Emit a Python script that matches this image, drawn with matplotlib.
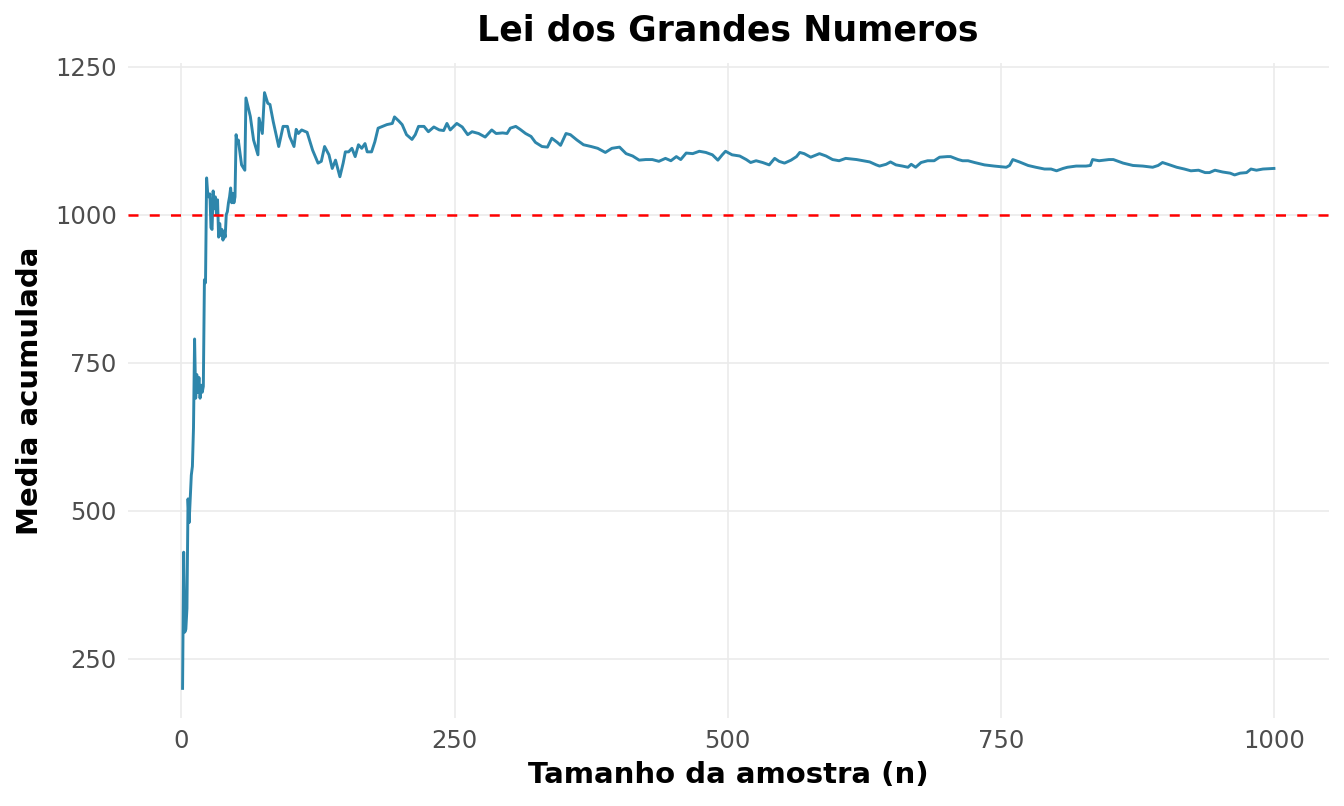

import matplotlib
matplotlib.use("Agg")
import matplotlib.pyplot as plt

# sample size (n) and cumulative mean
n_amostra = [
    1, 2, 3, 4, 5, 6, 7, 8, 9, 10, 11, 12, 13, 14, 15, 16, 17, 18, 19, 20,
    21, 22, 23, 24, 25, 26, 27, 28, 29, 30, 31, 32, 33, 34, 35, 36, 37, 38, 39, 40,
    41, 42, 43, 44, 45, 46, 47, 48, 49, 50, 51, 52, 55, 58, 59, 63, 66, 70, 71, 74,
    76, 79, 81, 84, 89, 93, 97, 99, 103, 105, 107, 110, 115, 120, 125, 128, 131, 135, 138, 141,
    145, 148, 150, 153, 156, 159, 162, 165, 168, 170, 174, 177, 180, 184, 188, 193, 195, 199, 202, 206,
    211, 214, 217, 222, 226, 231, 236, 240, 243, 246, 252, 257, 262, 266, 272, 278, 284, 288, 294, 298,
    301, 306, 310, 315, 320, 324, 330, 335, 339, 344, 347, 352, 356, 362, 368, 375, 381, 388, 394, 401,
    407, 413, 419, 425, 431, 437, 443, 448, 453, 457, 462, 468, 474, 480, 486, 491, 495, 498, 504, 511,
    517, 521, 526, 532, 538, 543, 547, 552, 558, 563, 566, 570, 576, 584, 590, 596, 602, 608, 618, 624,
    630, 636, 639, 645, 649, 654, 660, 665, 668, 672, 677, 683, 689, 694, 701, 704, 711, 715, 720, 726,
    735, 744, 755, 758, 761, 767, 775, 782, 790, 796, 801, 807, 811, 819, 828, 832, 834, 840, 849, 853,
    862, 871, 880, 889, 894, 898, 903, 911, 918, 924, 931, 937, 941, 946, 953, 960, 964, 969, 975, 979,
    984, 990, 1000,
]
media_acumulada = [
    200, 430, 295, 300, 335, 520, 480, 520, 560, 575, 640, 790, 690, 730, 700, 725, 690, 712, 700, 710,
    890, 885, 1062, 1036, 1030, 1035, 978, 975, 1040, 1010, 1030, 1000, 1025, 962, 985, 965, 975, 957, 972, 962,
    1000, 1005, 1020, 1030, 1045, 1020, 1036, 1020, 1030, 1135, 1120, 1126, 1084, 1075, 1197, 1166, 1126, 1101, 1163, 1137,
    1206, 1188, 1186, 1157, 1115, 1149, 1149, 1132, 1115, 1144, 1137, 1143, 1139, 1109, 1087, 1090, 1115, 1101, 1078, 1092,
    1064, 1087, 1106, 1106, 1112, 1098, 1118, 1112, 1120, 1106, 1106, 1123, 1146, 1149, 1152, 1154, 1165, 1158, 1152, 1135,
    1127, 1135, 1149, 1149, 1140, 1148, 1143, 1142, 1154, 1143, 1154, 1148, 1135, 1140, 1137, 1131, 1143, 1137, 1138, 1137,
    1146, 1149, 1144, 1137, 1132, 1122, 1115, 1114, 1129, 1122, 1117, 1137, 1135, 1126, 1118, 1115, 1112, 1105, 1112, 1114,
    1103, 1099, 1092, 1093, 1093, 1090, 1095, 1091, 1098, 1093, 1104, 1103, 1107, 1105, 1101, 1092, 1101, 1107, 1101, 1099,
    1093, 1088, 1091, 1088, 1084, 1095, 1090, 1087, 1092, 1098, 1105, 1103, 1097, 1103, 1099, 1093, 1091, 1095, 1093, 1091,
    1089, 1084, 1082, 1085, 1089, 1084, 1082, 1080, 1085, 1080, 1088, 1091, 1091, 1097, 1098, 1098, 1093, 1091, 1091, 1088,
    1084, 1082, 1080, 1083, 1093, 1089, 1083, 1080, 1077, 1077, 1074, 1078, 1080, 1082, 1082, 1083, 1093, 1091, 1093, 1093,
    1087, 1083, 1082, 1080, 1083, 1088, 1085, 1080, 1077, 1074, 1075, 1071, 1071, 1075, 1072, 1070, 1067, 1070, 1071, 1077,
    1075, 1077, 1078,
]
valor_esperado = 1000
x_ticks = [0, 250, 500, 750, 1000]
y_ticks = [250, 500, 750, 1000, 1250]

fig = plt.figure(figsize=(13.44, 8.06), dpi=100)
ax = fig.add_axes([0.0952, 0.1092, 0.8933, 0.8126])

ax.plot(n_amostra, media_acumulada, color="#2E86AB", lw=2.1, zorder=3)
ax.axhline(valor_esperado, color="red", lw=1.8, ls=(0, (4, 4.5)), zorder=4)

ax.set_xlim(-49, 1050)
ax.set_ylim(150, 1256)
ax.set_xticks(x_ticks)
ax.set_yticks(y_ticks)
ax.grid(color="#EBEBEB", lw=1.2)
ax.set_axisbelow(True)
for s in ax.spines.values():
    s.set_visible(False)
ax.tick_params(length=0, labelsize=17.5, labelcolor="#4D4D4D", pad=8)

ax.set_title("Lei dos Grandes Numeros", fontsize=25, fontweight="bold", pad=16)
ax.set_xlabel("Tamanho da amostra (n)", fontsize=21, fontweight="bold", labelpad=6)
ax.set_ylabel("Media acumulada", fontsize=21, fontweight="bold", labelpad=8)

fig.savefig("out.png", dpi=100)
